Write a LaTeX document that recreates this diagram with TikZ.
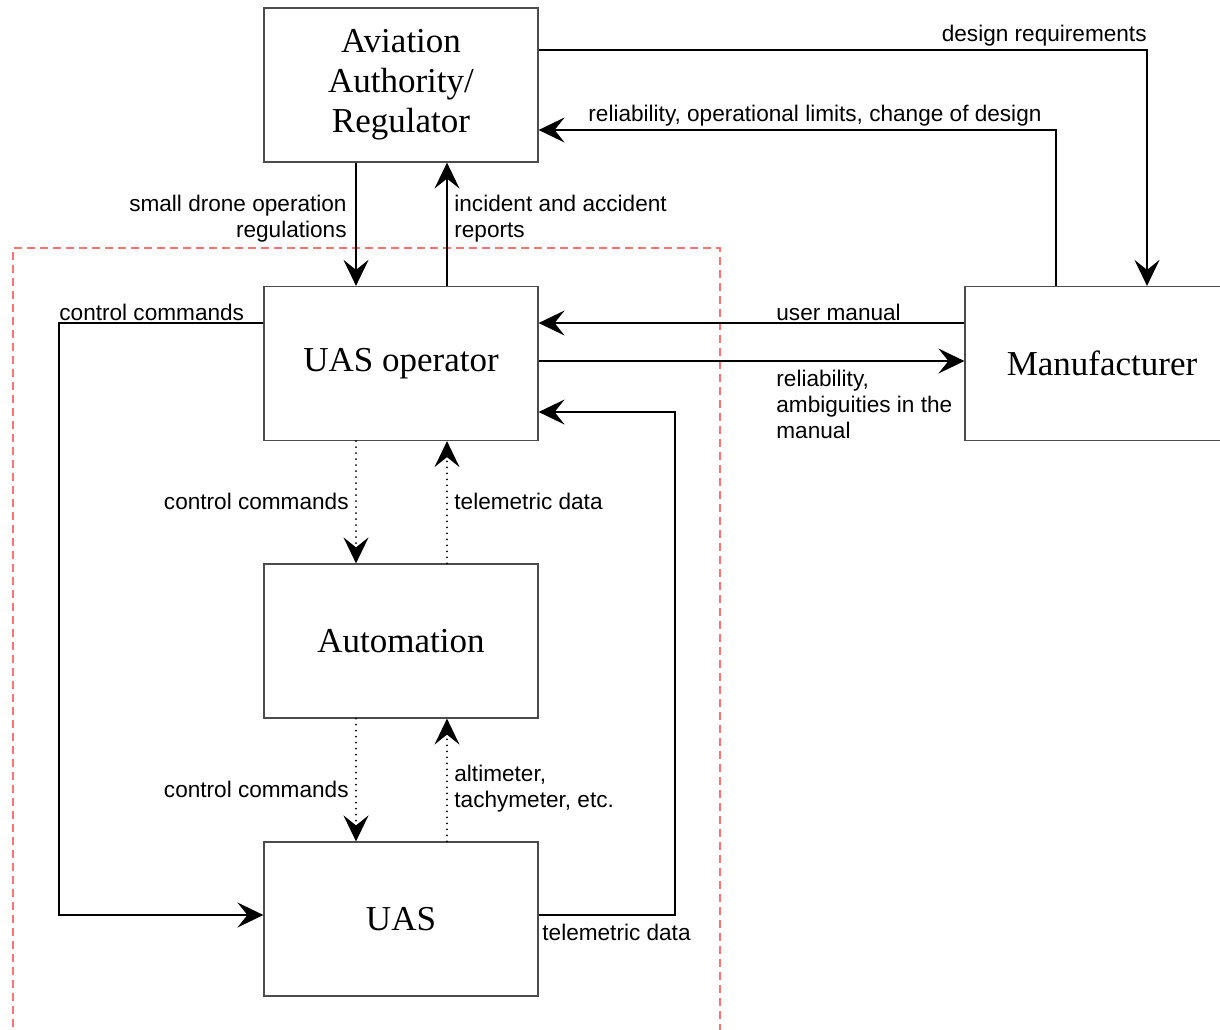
\documentclass[tikz,border=0pt]{standalone}
\usepackage{fontspec}
\setmainfont{Liberation Serif}
\setsansfont{Liberation Sans}
\usetikzlibrary{arrows.meta,positioning}

\tikzset{
  block/.style={draw=black!70, line width=0.6pt, minimum width=137pt, minimum height=77pt,
    inner sep=2pt, align=center, font=\fontsize{17.5}{20}\selectfont},
  arr/.style={line width=1pt, -{Stealth[length=13pt,width=12.5pt,inset=5pt]}},
  dots/.style={arr, dash pattern=on 0pt off 3pt, line cap=round},
  lbl/.style={inner sep=0pt, font=\sffamily\fontsize{11.3}{13}\selectfont},
  region/.style={draw=red!55, line width=0.6pt, dash pattern=on 4pt off 2.5pt}
}

\begin{document}
\begin{tikzpicture}[x=0.5pt, y=-0.5pt]
\useasboundingbox (0,0) rectangle (1220,1029);

% frame of the operator side
\draw[region] (13,1040) -- (13,248) -- (720,248) -- (720,1040);

% blocks
\node[block] (reg) at (401,85) {Aviation\\Authority/\\Regulator};
\node[block] (op) at (401,363.5) {UAS operator};
\node[block] (auto) at (401,641) {Automation};
\node[block] (uas) at (401,919) {UAS};
\node[block] (man) at (1102,363.5) {Manufacturer};

% corners and columns
\coordinate (dr) at (1147,50);
\coordinate (rl) at (1056,130);
\coordinate (um) at (0,323);
\coordinate (ra) at (0,361);
\coordinate (td) at (675,412);
\coordinate (tu) at (675,915);
\coordinate (cc) at (59,323);
\coordinate (cu) at (59,915);
\coordinate (dn) at (356,0);
\coordinate (up) at (447,0);

% regulator <-> manufacturer
\draw[arr] (reg.east |- dr) -| (man.north -| dr);
\node[lbl, anchor=south east] (drl) at (1147,47) {design requirements};
\draw[arr] (man.north -| rl) |- (reg.east |- rl);
\node[lbl, anchor=south west] (rll) at (588,127) {reliability, operational limits, change of design};

% regulator <-> operator
\draw[arr] (reg.south -| dn) -- (op.north -| dn);
\node[lbl, anchor=east, align=right] (sdl) at (347,219) {small drone operation\\regulations};
\draw[arr] (op.north -| up) -- (reg.south -| up);
\node[lbl, anchor=west, align=left] (ial) at (454,219) {incident and accident\\reports};

% operator <-> manufacturer
\draw[arr] (man.west |- um) -- (op.east |- um);
\node[lbl, anchor=south west] (uml) at (776,321) {user manual};
\draw[arr] (op.east |- ra) -- (man.west |- ra);
\node[lbl, anchor=north west, align=left] (ral) at (776,370) {reliability,\\ambiguities in the\\manual};

% direct loop
\draw[arr] (op.west |- cc) -- (cc) -- (cu) -- (uas.west |- cu);
\node[lbl, anchor=south west] (ccl) at (59,321) {control commands};
\draw[arr] (uas.east |- tu) -- (tu) -- (td) -- (op.east |- td);
\node[lbl, anchor=north west] (tdl) at (542,924) {telemetric data};

% through the automation
\draw[dots] (op.south -| dn) -- (auto.north -| dn);
\node[lbl, anchor=east] (cc2) at (349,501) {control commands};
\draw[dots] (auto.north -| up) -- (op.south -| up);
\node[lbl, anchor=west] (td2) at (454,501) {telemetric data};
\draw[dots] (auto.south -| dn) -- (uas.north -| dn);
\node[lbl, anchor=east] (cc3) at (349,789) {control commands};
\draw[dots] (uas.north -| up) -- (auto.south -| up);
\node[lbl, anchor=west, align=left] (alt) at (454,789) {altimeter,\\tachymeter, etc.};
\end{tikzpicture}
\end{document}
